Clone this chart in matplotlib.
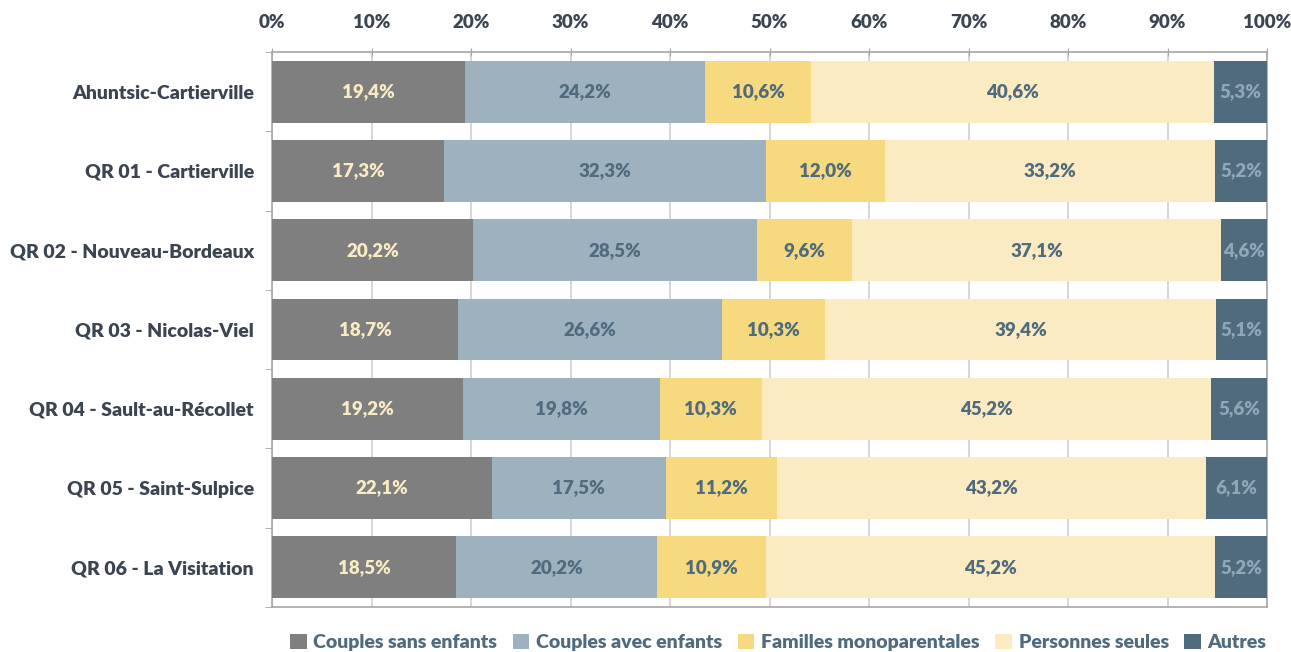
import matplotlib
matplotlib.use("Agg")
import matplotlib.pyplot as plt
import numpy as np
from matplotlib.patches import Patch

categories = ["Ahuntsic-Cartierville", "QR 01 - Cartierville", "QR 02 - Nouveau-Bordeaux",
              "QR 03 - Nicolas-Viel", "QR 04 - Sault-au-Récollet", "QR 05 - Saint-Sulpice",
              "QR 06 - La Visitation"]
series_names = ["Couples sans enfants", "Couples avec enfants", "Familles monoparentales",
                "Personnes seules", "Autres"]
couples_sans = [19.4, 17.3, 20.2, 18.7, 19.2, 22.1, 18.5]
couples_avec = [24.2, 32.3, 28.5, 26.6, 19.8, 17.5, 20.2]
familles_mono = [10.6, 12.0, 9.6, 10.3, 10.3, 11.2, 10.9]
personnes_seules = [40.6, 33.2, 37.1, 39.4, 45.2, 43.2, 45.2]
autres = [5.3, 5.2, 4.6, 5.1, 5.6, 6.1, 5.2]
xtick_labels = ["0%", "10%", "20%", "30%", "40%", "50%", "60%", "70%", "80%", "90%", "100%"]

colors = ["#7F7F7F", "#9DB1BF", "#F7D97F", "#FAEBC2", "#4F6B7D"]
text_colors = ["#FAEBC2", "#4F6B7D", "#4F6B7D", "#4F6B7D", "#91A7B6"]
FONT = "Lato"
W = "heavy"

plt.rcParams['font.family'] = [FONT, 'DejaVu Sans']

fig = plt.figure(figsize=(12.91, 6.52), dpi=100)
ax = fig.add_axes([272/1291, 1-607/652, (1267-272)/1291, (607-52)/652])

data = np.array([couples_sans, couples_avec, familles_mono, personnes_seules, autres])
totals = data.sum(axis=0)
norm = data / totals * 100
y = np.arange(len(categories))
left = np.zeros(len(categories))
for i in range(len(series_names)):
    ax.barh(y, norm[i], left=left, height=0.78, color=colors[i], label=series_names[i], zorder=3)
    for j in range(len(categories)):
        ax.text(left[j] + norm[i][j]/2, y[j], f"{data[i][j]:.1f}%".replace(".", ","),
                ha="center", va="center", color=text_colors[i], fontsize=13.5, fontweight=W, zorder=4)
    left += norm[i]

ax.set_xlim(0, 100)
ax.set_ylim(len(categories)-0.5, -0.5)
ax.xaxis.tick_top()
ax.set_xticks(np.arange(0, 101, 10))
ax.set_xticklabels(xtick_labels, fontsize=13.5, fontweight=W, color="#3B4552")
ax.tick_params(axis="x", length=6, color="#A6A6A6", pad=12, direction="inout")
ax.set_yticks(y)
ax.set_yticklabels(categories, fontsize=14, fontweight=W, color="#3B4552")
ax.tick_params(axis="y", length=0, pad=13)
ax.set_yticks(np.arange(-0.5, len(categories)+0.5, 1), minor=True)
ax.tick_params(axis="y", which="minor", length=5, color="#A6A6A6")
ax.grid(axis="x", color="#D0D0D0", linewidth=1.2, zorder=0)
for s in ["top", "bottom", "left", "right"]:
    ax.spines[s].set_color("#A6A6A6")
    ax.spines[s].set_linewidth(1.2)

handles = [Patch(facecolor=c, edgecolor="none") for c in colors]
fig.legend(handles, series_names, loc="lower right", bbox_to_anchor=(1284/1291, -0.026), ncol=5,
           frameon=False, handlelength=0.85, handleheight=0.85, handletextpad=0.35,
           columnspacing=0.8, labelcolor="#4F6B7D",
           prop={"family": [FONT, 'DejaVu Sans'], "weight": W, "size": 14})

fig.savefig("out.png", dpi=100)
